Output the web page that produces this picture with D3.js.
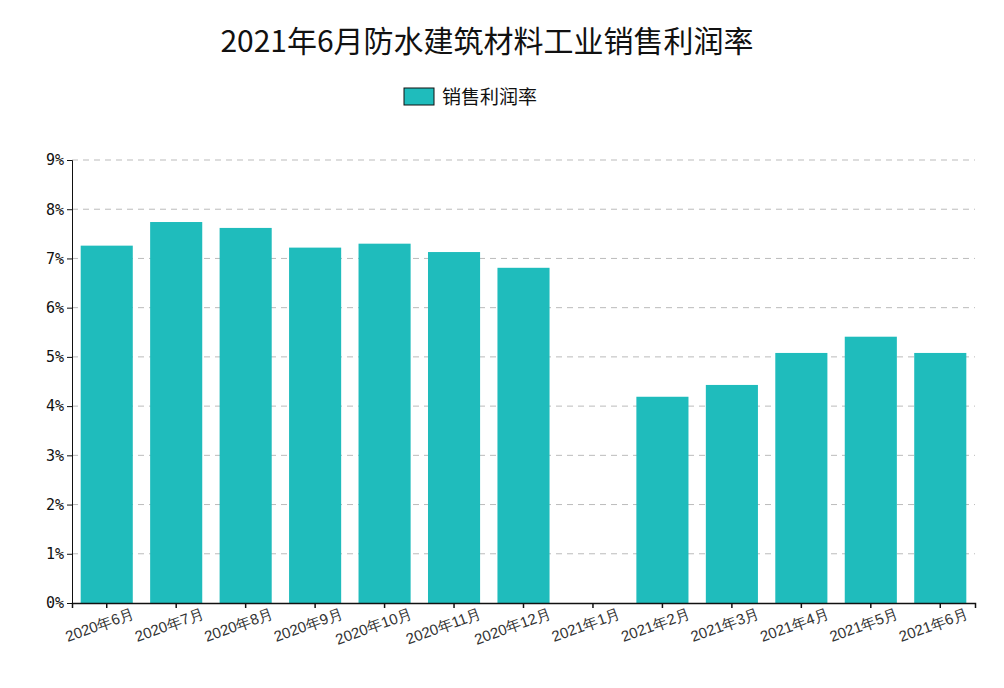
<!DOCTYPE html>
<html><head><meta charset="utf-8">
<script src="https://cdn.jsdelivr.net/npm/d3@7/dist/d3.min.js"></script>
<style>body{margin:0;background:#fff;font-family:"Noto Sans CJK SC",sans-serif;}</style>
</head><body><svg id="c" width="1004" height="688"></svg>
<script>
const categories = ["2020年6月","2020年7月","2020年8月","2020年9月","2020年10月","2020年11月","2020年12月","2021年1月","2021年2月","2021年3月","2021年4月","2021年5月","2021年6月"];
const values = [7.26,7.74,7.62,7.22,7.30,7.13,6.81,null,4.19,4.43,5.08,5.41,5.08];
const yTicks = [0,1,2,3,4,5,6,7,8,9];
const seriesName = "销售利润率";
const title = "2021年6月防水建筑材料工业销售利润率";

const svg = d3.select("#c");
const m = {l:72, r:975, t:160, b:603};
const x = d3.scaleBand().domain(categories).range([m.l, m.r]).paddingInner(0.25).paddingOuter(0.125);
const y = d3.scaleLinear().domain([0,9]).range([m.b, m.t]);

svg.append("text").attr("x",487).attr("y",52).attr("text-anchor","middle")
  .attr("font-size",30).attr("fill","#111").text(title);
svg.append("rect").attr("x",404).attr("y",88).attr("width",30).attr("height",17).attr("fill","#1fbcbc").attr("stroke","#111");
svg.append("text").attr("x",442).attr("y",104).attr("font-size",19).attr("fill","#111").text(seriesName);

svg.append("g").selectAll("line").data(yTicks.slice(1)).join("line")
  .attr("x1",m.l).attr("x2",m.r).attr("y1",d=>y(d)).attr("y2",d=>y(d))
  .attr("stroke","#bbb").attr("stroke-dasharray","6,5");

svg.append("g").selectAll("rect").data(categories.map((c,i)=>({c,v:values[i]})).filter(d=>d.v!=null)).join("rect")
  .attr("x",d=>x(d.c)).attr("width",x.bandwidth()).attr("y",d=>y(d.v)).attr("height",d=>y(0)-y(d.v)).attr("fill","#1fbcbc");

const ya = svg.append("g").attr("transform",`translate(${m.l},0)`)
  .call(d3.axisLeft(y).tickValues(yTicks).tickFormat(d=>d+"%").tickSize(5));
ya.selectAll("text").attr("font-size",15).attr("fill","#111").attr("font-family","DejaVu Sans Mono");
ya.selectAll("path,line").attr("stroke","#111");

const xa = svg.append("g").attr("transform",`translate(0,${m.b})`)
  .call(d3.axisBottom(x).tickSize(5));
xa.selectAll("path,line").attr("stroke","#111").attr("stroke-width",1.5);
xa.selectAll("text").attr("font-size",15).attr("fill","#333").attr("text-anchor","end")
  .attr("transform","translate(0,2) rotate(-20)").attr("dx","1.5em").attr("dy","0.9em");
</script></body></html>
